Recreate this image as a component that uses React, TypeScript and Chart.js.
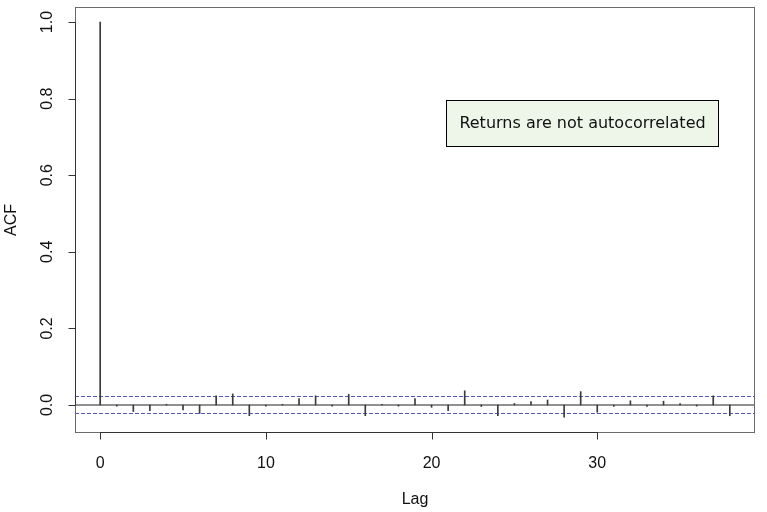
import React, { useEffect, useRef } from "react";
import { Chart, registerables } from "chart.js";

Chart.register(...registerables);

const lags: number[] = [
  0, 1, 2, 3, 4, 5, 6, 7, 8, 9, 10, 11, 12, 13, 14, 15, 16, 17, 18, 19,
  20, 21, 22, 23, 24, 25, 26, 27, 28, 29, 30, 31, 32, 33, 34, 35, 36, 37, 38,
];
const acfValues: number[] = [
  1.0, -0.003, -0.017, -0.015, 0.002, -0.013, -0.022, 0.024, 0.029, -0.028,
  -0.003, 0.002, 0.017, 0.024, -0.003, 0.028, -0.028, 0.002, -0.003, 0.017,
  -0.006, -0.015, 0.037, -0.004, -0.028, 0.004, 0.009, 0.013, -0.032, 0.035,
  -0.019, -0.004, 0.011, -0.004, 0.01, 0.004, -0.003, 0.024, -0.028,
];
const ciBound = 0.0222;
const xTicks: number[] = [0, 10, 20, 30];
const yTicks: number[] = [0, 0.2, 0.4, 0.6, 0.8, 1.0];
const yTickLabels: string[] = ["0.0", "0.2", "0.4", "0.6", "0.8", "1.0"];
const xTitle = "Lag";
const yTitle = "ACF";
const noteText = "Returns are not autocorrelated";

const X_MIN = -1.52;
const X_MAX = 39.52;
const Y_MIN = -0.0731;
const Y_MAX = 1.0392;

const FONT = "16px 'Liberation Sans', Arial, sans-serif";

const rAxesPlugin = {
  id: "rAxes",
  afterDraw(chart: any) {
    const ctx = chart.ctx as CanvasRenderingContext2D;
    const { left, right, top, bottom } = chart.chartArea;
    const xs = chart.scales.x;
    const ys = chart.scales.y;
    ctx.save();
    // frame
    ctx.strokeStyle = "#6a6a6a";
    ctx.lineWidth = 1;
    ctx.strokeRect(left + 0.5, top + 0.5, right - left - 1, bottom - top - 1);

    ctx.strokeStyle = "#333";
    // x axis
    const xb = bottom - 0.5;
    ctx.beginPath();
    ctx.moveTo(Math.round(xs.getPixelForValue(xTicks[0])) + 0.5, xb);
    ctx.lineTo(Math.round(xs.getPixelForValue(xTicks[xTicks.length - 1])) + 0.5, xb);
    xTicks.forEach((t) => {
      const px = Math.round(xs.getPixelForValue(t)) + 0.5;
      ctx.moveTo(px, xb);
      ctx.lineTo(px, xb + 7);
    });
    ctx.stroke();
    // y axis
    const yl = left + 0.5;
    ctx.beginPath();
    ctx.moveTo(yl, Math.round(ys.getPixelForValue(yTicks[0])) + 0.5);
    ctx.lineTo(yl, Math.round(ys.getPixelForValue(yTicks[yTicks.length - 1])) + 0.5);
    yTicks.forEach((t) => {
      const py = Math.round(ys.getPixelForValue(t)) + 0.5;
      ctx.moveTo(yl, py);
      ctx.lineTo(yl - 7, py);
    });
    ctx.stroke();

    ctx.fillStyle = "#111";
    ctx.font = FONT;
    ctx.textAlign = "center";
    ctx.textBaseline = "alphabetic";
    xTicks.forEach((t) => {
      ctx.fillText(String(t), xs.getPixelForValue(t), bottom + 35);
    });
    ctx.fillText(xTitle, (left + right) / 2, bottom + 71);

    yTicks.forEach((t, i) => {
      const py = ys.getPixelForValue(t);
      ctx.save();
      ctx.translate(left - 23, py);
      ctx.rotate(-Math.PI / 2);
      ctx.fillText(yTickLabels[i], 0, 0);
      ctx.restore();
    });
    ctx.save();
    ctx.translate(left - 59, (top + bottom) / 2);
    ctx.rotate(-Math.PI / 2);
    ctx.fillText(yTitle, 0, 0);
    ctx.restore();

    // annotation box
    const opts = chart.options.plugins.rAxes;
    const bx0 = Math.round(xs.getPixelForValue(opts.boxX0)) + 0.5;
    const bx1 = Math.round(xs.getPixelForValue(opts.boxX1)) + 0.5;
    const by0 = Math.round(ys.getPixelForValue(opts.boxY1)) + 0.5;
    const by1 = Math.round(ys.getPixelForValue(opts.boxY0)) + 0.5;
    ctx.fillStyle = "#eef5e9";
    ctx.fillRect(bx0, by0, bx1 - bx0, by1 - by0);
    ctx.strokeStyle = "#000";
    ctx.strokeRect(bx0, by0, bx1 - bx0, by1 - by0);
    ctx.fillStyle = "#111";
    ctx.font = "16px 'DejaVu Sans', sans-serif";
    ctx.textAlign = "center";
    ctx.textBaseline = "middle";
    ctx.fillText(noteText, (bx0 + bx1) / 2, (by0 + by1) / 2);
    ctx.restore();
  },
};

export default function App() {
  const canvasRef = useRef<HTMLCanvasElement | null>(null);

  useEffect(() => {
    document.body.style.margin = "0";
    const canvas = canvasRef.current;
    if (!canvas) return;
    const chart = new Chart(canvas, {
      type: "bar",
      data: {
        datasets: [
          {
            type: "line",
            data: [
              { x: X_MIN, y: 0 },
              { x: X_MAX, y: 0 },
            ],
            borderColor: "#222",
            borderWidth: 1,
            pointRadius: 0,
            order: 2,
          } as any,
          {
            type: "line",
            data: [
              { x: X_MIN, y: ciBound },
              { x: X_MAX, y: ciBound },
            ],
            borderColor: "#5656c8",
            borderWidth: 1,
            borderDash: [4, 2],
            pointRadius: 0,
            order: 3,
          } as any,
          {
            type: "line",
            data: [
              { x: X_MIN, y: -ciBound },
              { x: X_MAX, y: -ciBound },
            ],
            borderColor: "#5656c8",
            borderWidth: 1,
            borderDash: [4, 2],
            pointRadius: 0,
            order: 3,
          } as any,
          {
            type: "bar",
            data: lags.map((l, i) => ({ x: l, y: acfValues[i] })),
            backgroundColor: "#3a3a3a",
            borderWidth: 0,
            barThickness: 1,
            order: 1,
          } as any,
        ],
      },
      options: {
        responsive: false,
        animation: false,
        devicePixelRatio: 1,
        layout: { padding: { left: 75, right: 12, top: 7, bottom: 79 } },
        scales: {
          x: {
            type: "linear",
            display: false,
            min: X_MIN,
            max: X_MAX,
            offset: false,
          },
          y: {
            type: "linear",
            display: false,
            min: Y_MIN,
            max: Y_MAX,
          },
        },
        plugins: {
          legend: { display: false },
          tooltip: { enabled: false },
          rAxes: { boxX0: 20.85, boxX1: 37.28, boxY0: 0.676, boxY1: 0.796 },
        } as any,
      },
      plugins: [rAxesPlugin],
    });
    return () => chart.destroy();
  }, []);

  return (
    <div style={{ position: "absolute", left: 0, top: 0, width: 767, height: 512, background: "#fff" }}>
      <canvas ref={canvasRef} width={767} height={512} style={{ width: 767, height: 512, display: "block" }} />
    </div>
  );
}
